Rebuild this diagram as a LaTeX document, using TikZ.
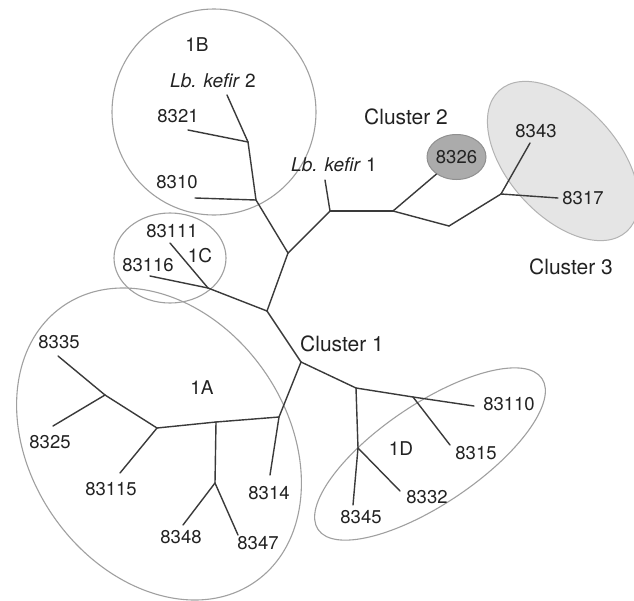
\documentclass[tikz,border=0pt]{standalone}
\usepackage{fontspec}
\setmainfont{TeX Gyre Heros}
\usetikzlibrary{shapes.geometric}
\definecolor{branch}{HTML}{3A3A3A}
\definecolor{ring}{HTML}{A0A0A0}
\definecolor{txt}{HTML}{222222}
\definecolor{cltwo}{HTML}{ABABAB}
\definecolor{clthree}{HTML}{E5E5E5}
\tikzset{
  br/.style={draw=branch, line width=1.4pt, line cap=round, line join=round},
  grp/.style={draw=ring, line width=1.1pt},
  num/.style={inner sep=0pt, text=txt, font=\fontsize{18.5}{20}\selectfont},
  grplab/.style={inner sep=0pt, text=txt, font=\fontsize{19}{21}\selectfont},
  clab/.style={inner sep=0pt, text=txt, font=\fontsize{21}{23}\selectfont},
}
\begin{document}
\begin{tikzpicture}[x=1pt,y=-1pt]
\path[fill=white,use as bounding box] (0,0) rectangle (634,600);

% group outlines
\fill[clthree] [rotate around={-48:(563,161)}] (563,161) ellipse [x radius=95pt, y radius=55pt];
\draw[draw=ring!80, line width=1pt] [rotate around={-48:(563,161)}] (563,161) ellipse [x radius=95pt, y radius=55pt];
\draw[grp] (214,112) ellipse [x radius=102pt, y radius=103pt];
\draw[grp] (170,258) ellipse [x radius=56pt, y radius=45pt];
\draw[grp] [rotate around={35:(159,444)}] (159,444) ellipse [x radius=128pt, y radius=168pt];
\draw[grp] [rotate around={34:(430,454)}] (430,454) ellipse [x radius=135pt, y radius=50pt];
\node[ellipse, fill=cltwo, draw=ring!90!black, line width=1pt, minimum width=59pt, minimum height=45pt, inner sep=0pt, num] (n8326) at (456.5,157) {8326};

% internal points
\coordinate (r) at (267,311);
\coordinate (b) at (288,253);
\coordinate (c1c) at (208,288);
\coordinate (cl1) at (301,362);
\coordinate (bj1) at (256,200);
\coordinate (bj2) at (248,142);
\coordinate (k1) at (330,211);
\coordinate (k2) at (393,211);
\coordinate (k3) at (449,226);
\coordinate (k4) at (501,194);
\coordinate (d1) at (356,388);
\coordinate (d2) at (413,397);
\coordinate (d3) at (358,448);
\coordinate (a1) at (279,417);
\coordinate (a2) at (216,422);
\coordinate (a3) at (215,483);
\coordinate (a4) at (157,428);
\coordinate (a5) at (105,395);

% leaf ends
\coordinate (e8310) at (195,198);
\coordinate (e8321) at (188,130);
\coordinate (ekef2) at (227,95);
\coordinate (ekef1) at (325,180);
\coordinate (e8343) at (530,143);
\coordinate (e8317) at (558,198);
\coordinate (e83111) at (170,243);
\coordinate (e83116) at (150,276);
\coordinate (e83110) at (474,406);
\coordinate (e8315) at (450,445);
\coordinate (e8345) at (353,505);
\coordinate (e8332) at (400,491);
\coordinate (e8314) at (270,475);
\coordinate (e8348) at (183,525);
\coordinate (e8347) at (238,535);
\coordinate (e83115) at (120,473);
\coordinate (e8335) at (58,356);
\coordinate (e8325) at (53,426);

% branches
\draw[br] (r) -- (b);
\draw[br] (r) -- (c1c);
\draw[br] (r) -- (cl1);
\draw[br] (c1c) -- (e83111);
\draw[br] (c1c) -- (e83116);
\draw[br] (b) -- (bj1);
\draw[br] (bj1) -- (e8310);
\draw[br] (bj1) -- (bj2);
\draw[br] (bj2) -- (e8321);
\draw[br] (bj2) -- (ekef2);
\draw[br] (b) -- (k1);
\draw[br] (k1) -- (ekef1);
\draw[br] (k1) -- (k2);
\draw[br] (k2) -- (n8326);
\draw[br] (k2) -- (k3);
\draw[br] (k3) -- (k4);
\draw[br] (k4) -- (e8343);
\draw[br] (k4) -- (e8317);
\draw[br] (cl1) -- (a1);
\draw[br] (cl1) -- (d1);
\draw[br] (d1) -- (d2);
\draw[br] (d2) -- (e83110);
\draw[br] (d2) -- (e8315);
\draw[br] (d1) -- (d3);
\draw[br] (d3) -- (e8345);
\draw[br] (d3) -- (e8332);
\draw[br] (a1) -- (e8314);
\draw[br] (a1) -- (a2);
\draw[br] (a2) -- (a4);
\draw[br] (a2) -- (a3);
\draw[br] (a3) -- (e8348);
\draw[br] (a3) -- (e8347);
\draw[br] (a4) -- (a5);
\draw[br] (a4) -- (e83115);
\draw[br] (a5) -- (e8335);
\draw[br] (a5) -- (e8325);

% labels
\node[grplab] (l1B) at (197,45) {1B};
\node[grplab] (lkef2) at (213,81) {\textit{Lb. kefir} 2};
\node[num] (l8321) at (178,116) {8321};
\node[num] (l8310) at (177,182) {8310};
\node[grplab] (lkef1) at (334,165) {\textit{Lb. kefir} 1};
\node[clab] (lc2) at (406,117) {Cluster 2};
\node[num] (l8343) at (536,131) {8343};
\node[num] (l8317) at (583,198) {8317};
\node[clab] (lc3) at (571,267) {Cluster 3};
\node[num] (l83111) at (172,231) {83111};
\node[num] (l83116) at (148,265) {83116};
\node[grplab] (l1C) at (200,256) {1C};
\node[num] (l8335) at (59,342) {8335};
\node[grplab] (l1A) at (202,388) {1A};
\node[clab] (lc1) at (342,344) {Cluster 1};
\node[num] (l8325) at (50,442) {8325};
\node[num] (l83115) at (111,489) {83115};
\node[num] (l8314) at (269,493) {8314};
\node[num] (l8348) at (181,537) {8348};
\node[num] (l8347) at (258,543) {8347};
\node[num] (l83110) at (509,404) {83110};
\node[grplab] (l1D) at (401,449) {1D};
\node[num] (l8315) at (476,453) {8315};
\node[num] (l8332) at (427,497) {8332};
\node[num] (l8345) at (361,517) {8345};
\end{tikzpicture}
\end{document}
